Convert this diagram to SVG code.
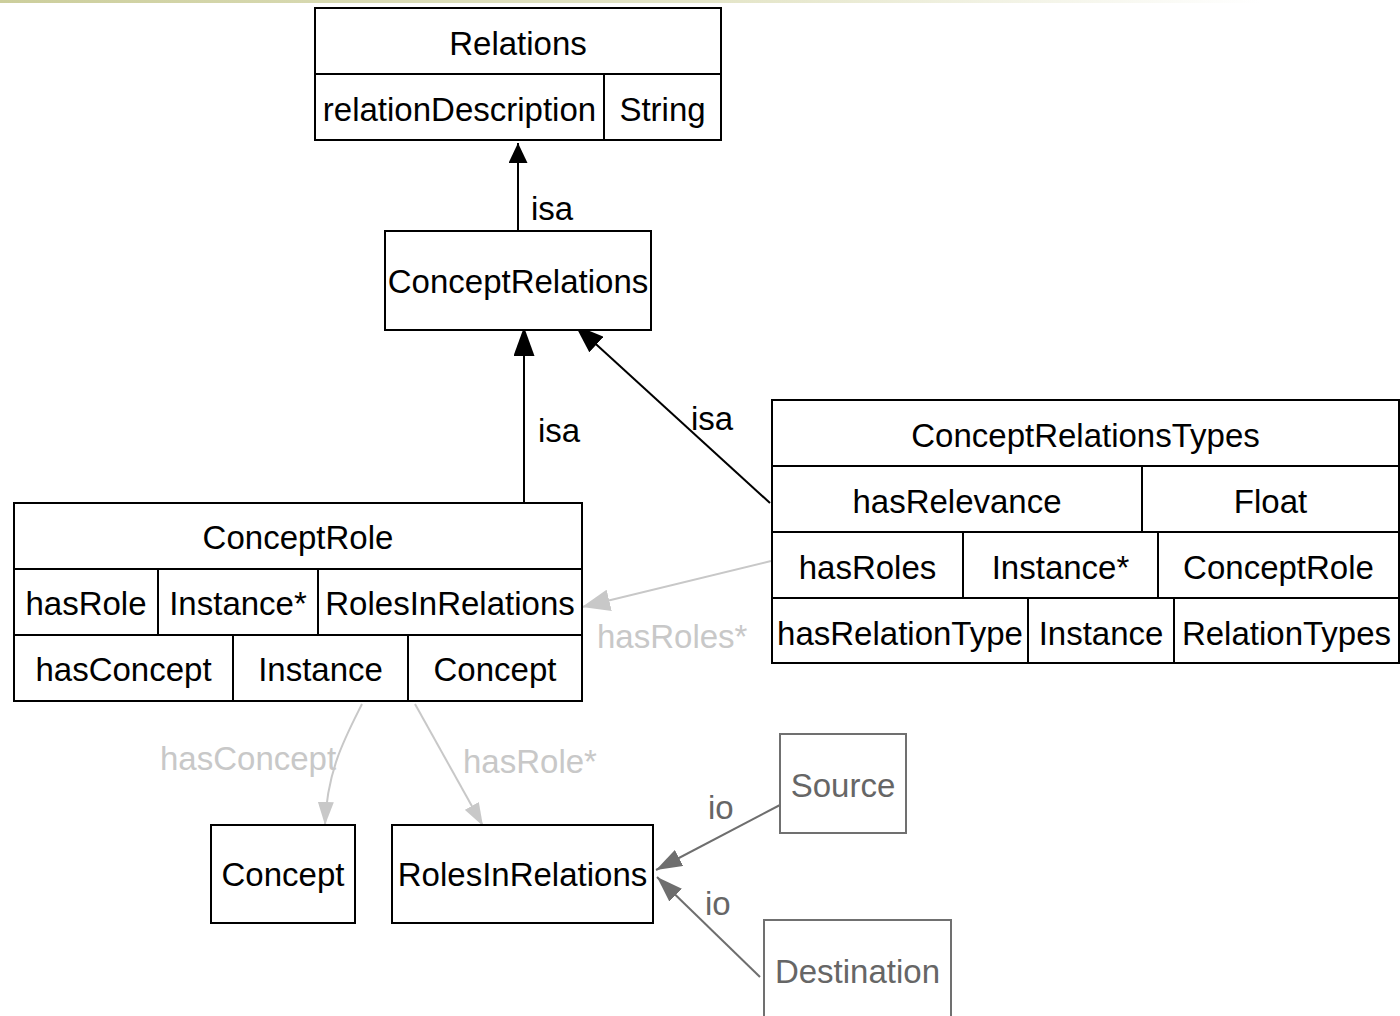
<svg xmlns="http://www.w3.org/2000/svg" width="1400" height="1016" viewBox="0 0 1400 1016">
<defs>
<linearGradient id="bar" x1="0" y1="0" x2="1" y2="0">
<stop offset="0" stop-color="#ccce9c"/>
<stop offset="0.55" stop-color="#e6e7cc"/>
<stop offset="0.9" stop-color="#ffffff"/>
</linearGradient>
<marker id="aBlkS" markerUnits="userSpaceOnUse" markerWidth="20" markerHeight="19" refX="20" refY="9.5" orient="auto"><path d="M0,0 L20,9.5 L0,19 z" fill="#000"/></marker>
<marker id="aBlkL" markerUnits="userSpaceOnUse" markerWidth="29" markerHeight="21" refX="29" refY="10.5" orient="auto"><path d="M0,0 L29,10.5 L0,21 z" fill="#000"/></marker>
<marker id="aGryL" markerUnits="userSpaceOnUse" markerWidth="28" markerHeight="22" refX="28" refY="11" orient="auto"><path d="M0,0 L28,11 L0,22 z" fill="#c8c8c8"/></marker>
<marker id="aGryS" markerUnits="userSpaceOnUse" markerWidth="23" markerHeight="16" refX="23" refY="8" orient="auto"><path d="M0,0 L23,8 L0,16 z" fill="#c8c8c8"/></marker>
<marker id="aIo" markerUnits="userSpaceOnUse" markerWidth="26" markerHeight="18" refX="26" refY="9" orient="auto"><path d="M0,0 L26,9 L0,18 z" fill="#6e6e6e"/></marker>
</defs>
<style>
text{font-family:"Liberation Sans",Arial,sans-serif;font-size:33px;fill:#000}
.c{text-anchor:middle}
.box{fill:#fff;stroke:#000;stroke-width:2}
.ln{fill:none;stroke:#000;stroke-width:2}
.gbox{fill:#fff;stroke:#707070;stroke-width:2}
.gt{fill:#666}
.lt{fill:#c8c8c8}
.isa{fill:none;stroke:#000;stroke-width:2}
.gry{fill:none;stroke:#c8c8c8;stroke-width:2}
.io{fill:none;stroke:#6e6e6e;stroke-width:2}
</style>
<rect x="0" y="0" width="1400" height="1016" fill="#fff"/>
<rect x="0" y="0" width="1400" height="3" fill="url(#bar)"/>

<g id="connectors">
<line class="isa" x1="518" y1="231" x2="518" y2="143" marker-end="url(#aBlkS)"/>
<line class="isa" x1="524" y1="503" x2="524" y2="327" marker-end="url(#aBlkL)"/>
<line class="isa" x1="770" y1="503" x2="575" y2="325" marker-end="url(#aBlkL)"/>
<line class="gry" x1="771" y1="561" x2="582" y2="607" marker-end="url(#aGryL)"/>
<path class="gry" d="M362,704 C345,738 327,770 325,825" marker-end="url(#aGryS)"/>
<line class="gry" x1="415" y1="704" x2="483" y2="826" marker-end="url(#aGryS)"/>
<line class="io" x1="780" y1="805" x2="656" y2="870" marker-end="url(#aIo)"/>
<line class="io" x1="760" y1="977" x2="657" y2="877" marker-end="url(#aIo)"/>
<text x="531" y="220">isa</text>
<text x="538" y="442">isa</text>
<text x="691" y="430">isa</text>
<text class="lt" x="597" y="648">hasRoles*</text>
<text class="lt" x="160" y="770">hasConcept</text>
<text class="lt" x="463" y="773">hasRole*</text>
<text class="gt" x="708" y="819">io</text>
<text class="gt" x="705" y="915">io</text>
</g>

<g id="Relations">
<rect class="box" x="315" y="8" width="406" height="132"/>
<line class="ln" x1="315" y1="74" x2="721" y2="74"/>
<line class="ln" x1="604" y1="74" x2="604" y2="140"/>
<text class="c" x="518" y="55">Relations</text>
<text class="c" x="459.5" y="121">relationDescription</text>
<text class="c" x="662.5" y="121">String</text>
</g>

<g id="ConceptRelations">
<rect class="box" x="385" y="231" width="266" height="99"/>
<text class="c" x="518" y="293">ConceptRelations</text>
</g>

<g id="ConceptRole">
<rect class="box" x="14" y="503" width="568" height="198"/>
<line class="ln" x1="14" y1="569" x2="582" y2="569"/>
<line class="ln" x1="14" y1="635" x2="582" y2="635"/>
<line class="ln" x1="158" y1="569" x2="158" y2="635"/>
<line class="ln" x1="318" y1="569" x2="318" y2="635"/>
<line class="ln" x1="233" y1="635" x2="233" y2="701"/>
<line class="ln" x1="408" y1="635" x2="408" y2="701"/>
<text class="c" x="298" y="549">ConceptRole</text>
<text class="c" x="86" y="615">hasRole</text>
<text class="c" x="238" y="615">Instance*</text>
<text class="c" x="450" y="615">RolesInRelations</text>
<text class="c" x="123.5" y="681">hasConcept</text>
<text class="c" x="320.5" y="681">Instance</text>
<text class="c" x="495" y="681">Concept</text>
</g>

<g id="ConceptRelationsTypes">
<rect class="box" x="772" y="400" width="627" height="263"/>
<line class="ln" x1="772" y1="466" x2="1399" y2="466"/>
<line class="ln" x1="772" y1="532" x2="1399" y2="532"/>
<line class="ln" x1="772" y1="598" x2="1399" y2="598"/>
<line class="ln" x1="1142" y1="466" x2="1142" y2="532"/>
<line class="ln" x1="963" y1="532" x2="963" y2="598"/>
<line class="ln" x1="1158" y1="532" x2="1158" y2="598"/>
<line class="ln" x1="1028" y1="598" x2="1028" y2="663"/>
<line class="ln" x1="1174" y1="598" x2="1174" y2="663"/>
<text class="c" x="1085.5" y="447">ConceptRelationsTypes</text>
<text class="c" x="957" y="513">hasRelevance</text>
<text class="c" x="1270.5" y="513">Float</text>
<text class="c" x="867.5" y="579">hasRoles</text>
<text class="c" x="1060.5" y="579">Instance*</text>
<text class="c" x="1278.5" y="579">ConceptRole</text>
<text class="c" x="900" y="645">hasRelationType</text>
<text class="c" x="1101" y="645">Instance</text>
<text class="c" x="1286.5" y="645">RelationTypes</text>
</g>

<g id="Concept">
<rect class="box" x="211" y="825" width="144" height="98"/>
<text class="c" x="283" y="886">Concept</text>
</g>

<g id="RolesInRelations">
<rect class="box" x="392" y="825" width="261" height="98"/>
<text class="c" x="522.5" y="886">RolesInRelations</text>
</g>

<g id="Source">
<rect class="gbox" x="780" y="734" width="126" height="99"/>
<text class="c gt" x="843" y="797">Source</text>
</g>

<g id="Destination">
<rect class="gbox" x="764" y="920" width="187" height="120"/>
<text class="c gt" x="857.5" y="983">Destination</text>
</g>
</svg>
